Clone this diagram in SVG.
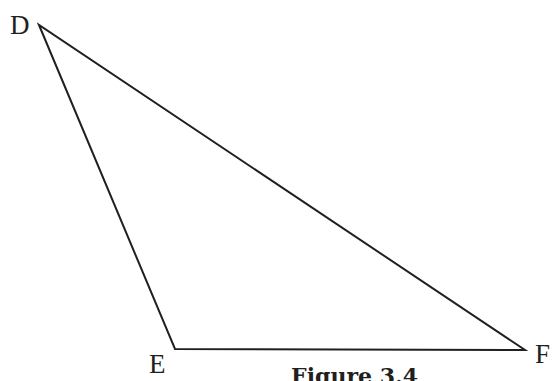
<svg xmlns="http://www.w3.org/2000/svg" width="554" height="381" viewBox="0 0 554 381">
<style>
.lbl{font-family:"Liberation Serif","Times New Roman",serif;font-size:27px;fill:#231f20}
.edge{fill:none;stroke:#231f20;stroke-width:2;stroke-linejoin:miter}
.cap{font-family:"DejaVu Serif",serif;font-weight:bold;font-size:22.5px;fill:#231f20}
</style>
<rect width="554" height="381" fill="#ffffff"/>
<g id="connectors">
<polygon class="edge" points="39,25 175,349 525,350"/>
</g>
<g id="D"><text class="lbl" x="10" y="34">D</text></g>
<g id="E"><text class="lbl" x="149" y="373">E</text></g>
<g id="F"><text class="lbl" x="535" y="363">F</text></g>
<g id="caption"><text class="cap" x="291" y="384" textLength="127" lengthAdjust="spacingAndGlyphs">Figure 3.4</text></g>
</svg>
